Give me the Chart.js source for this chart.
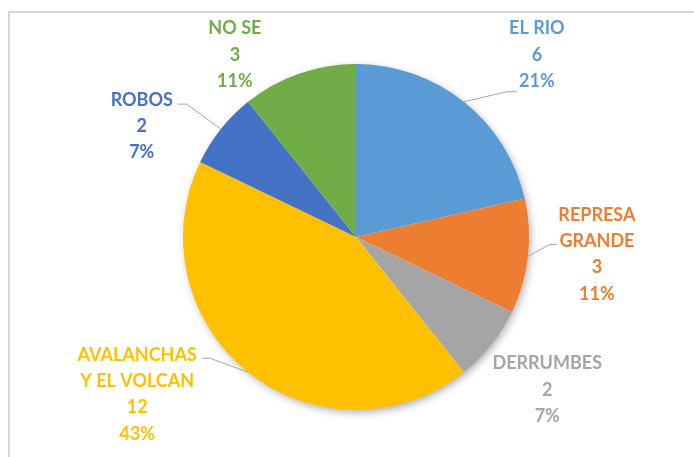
<!DOCTYPE html>
<html>
<head>
<meta charset="utf-8">
<script src="https://cdn.jsdelivr.net/npm/chart.js@4/dist/chart.umd.min.js"></script>
<style>
  html, body { margin: 0; padding: 0; background: #fff; }
  #wrap { position: relative; width: 694px; height: 457px; }
  #frame { position: absolute; left: 8px; top: 11px; right: 0; bottom: 0;
           border-top: 2px solid #d9d9d9; border-left: 2px solid #d9d9d9; }
  canvas { position: absolute; left: 0; top: 0; }
</style>
</head>
<body>
<div id="wrap">
  <div id="frame"></div>
  <canvas id="torta" width="694" height="457"></canvas>
</div>
<script>
const categorias = [['EL RIO'], ['REPRESA', 'GRANDE'], ['DERRUMBES'], ['AVALANCHAS', 'Y EL VOLCAN'], ['ROBOS'], ['NO SE']];
const valores = [6, 3, 2, 12, 2, 3];
const colores = ['#5b9bd5', '#ed7d31', '#a5a5a5', '#ffc000', '#4472c4', '#70ad47'];

// donde va cada etiqueta respecto al punto medio del borde de su trozo
const posEtiquetas = [[73, -47], [69, -2], [56, 45], [-111, 22], [-79, -3], [-64, -19]];
// lineas guia (codo y final), relativas al mismo punto
const guias = [
  [[43, -10], [53, -10]],
  [[22, -12], [29, -12]],
  null,
  [[-38, -14], [-46, -14]],
  [[-34, -25], [-43, -25]],
  null
];

const sombra = {
  id: 'sombra',
  beforeDatasetsDraw(chart) {
    const arc = chart.getDatasetMeta(0).data[0];
    const ctx = chart.ctx;
    ctx.save();
    ctx.shadowColor = 'rgba(0,0,0,0.35)';
    ctx.shadowBlur = 9;
    ctx.shadowOffsetX = 2;
    ctx.shadowOffsetY = 3;
    ctx.fillStyle = '#fff';
    ctx.beginPath();
    ctx.arc(arc.x, arc.y, arc.outerRadius - 1, 0, Math.PI * 2);
    ctx.fill();
    ctx.restore();
  }
};

const etiquetas = {
  id: 'etiquetas',
  afterDatasetsDraw(chart) {
    const ctx = chart.ctx;
    const total = valores.reduce((a, b) => a + b, 0);
    chart.getDatasetMeta(0).data.forEach((arc, i) => {
      const mid = (arc.startAngle + arc.endAngle) / 2;
      const ax = arc.x + Math.cos(mid) * arc.outerRadius;
      const ay = arc.y + Math.sin(mid) * arc.outerRadius;

      if (guias[i]) {
        ctx.save();
        ctx.strokeStyle = '#a6a6a6';
        ctx.lineWidth = 1;
        ctx.beginPath();
        ctx.moveTo(ax, ay);
        guias[i].forEach(p => ctx.lineTo(ax + p[0], ay + p[1]));
        ctx.stroke();
        ctx.restore();
      }

      const lineas = categorias[i].concat([String(valores[i]), Math.round(valores[i] / total * 100) + '%']);
      const alto = 26.3;
      const cx = ax + posEtiquetas[i][0];
      const cy = ay + posEtiquetas[i][1] - (lineas.length - 1) * alto / 2;
      ctx.save();
      ctx.font = 'bold 18px Lato, "Open Sans", sans-serif';
      ctx.fillStyle = colores[i];
      ctx.textAlign = 'center';
      ctx.textBaseline = 'middle';
      lineas.forEach((t, k) => ctx.fillText(t, cx, cy + k * alto));
      ctx.restore();
    });
  }
};

new Chart(document.getElementById('torta'), {
  type: 'pie',
  data: {
    labels: categorias.map(c => c.join(' ')),
    datasets: [{
      data: valores,
      backgroundColor: colores,
      borderWidth: 0
    }]
  },
  options: {
    responsive: false,
    animation: false,
    events: [],
    layout: { padding: { top: 64, bottom: 47, left: 100, right: 82 } },
    plugins: {
      legend: { display: false },
      tooltip: { enabled: false }
    }
  },
  plugins: [sombra, etiquetas]
});
</script>
</body>
</html>
